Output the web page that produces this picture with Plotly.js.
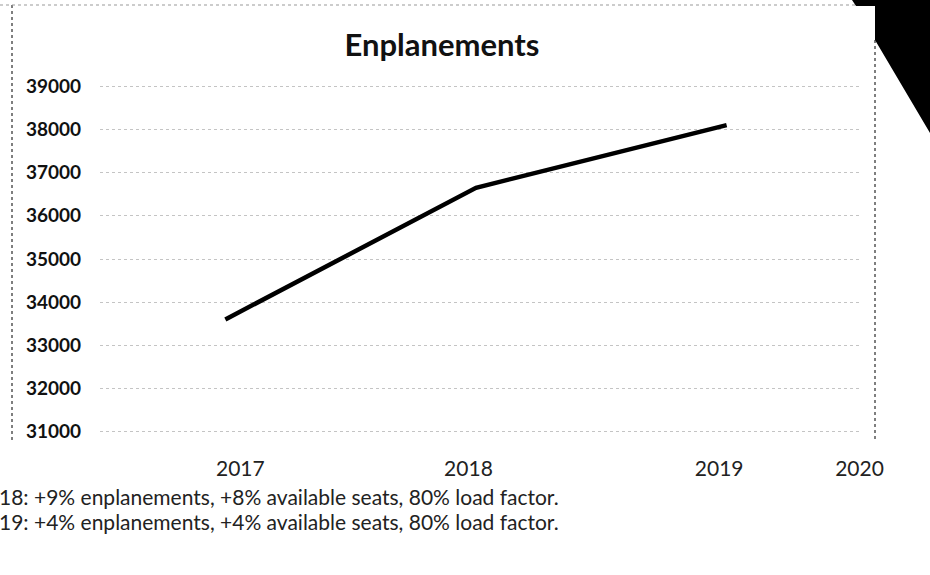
<!DOCTYPE html>
<html>
<head>
<meta charset="utf-8">
<script src="https://cdn.plot.ly/plotly-3.0.1.min.js"></script>
<style>html,body{margin:0;padding:0;background:#fff;}#chart{width:930px;height:575px;}</style>
</head>
<body>
<div id="chart"></div>
<script>
// Data
const years = [2017, 2018, 2019];
const enplanements = [33600, 36650, 38100];
const tickLabels = ['2017', '2018', '2019', '2020'];
const yTicks = [31000, 32000, 33000, 34000, 35000, 36000, 37000, 38000, 39000];
const notes = [
  '18: +9% enplanements, +8% available seats, 80% load factor.',
  '19: +4% enplanements, +4% available seats, 80% load factor.'
];
const chartTitle = 'Enplanements';

// label positions along the category axis (as in the scanned chart)
const tickPos = [2017.06, 2017.97, 2018.97, 2019.53];

// plot-area geometry helpers (pixels -> paper)
const L = 100, R = 862, T = 82, B = 436;
const px = p => (p - L) / (R - L);
const py = p => (B - p) / (B - T);

const trace = {
  x: years, y: enplanements, type: 'scatter', mode: 'lines',
  line: {color: '#000', width: 4.5},
  hoverinfo: 'skip'
};

const layout = {
  width: 930, height: 575,
  margin: {l: L, r: 930 - R, t: T, b: 575 - B},
  paper_bgcolor: '#fff', plot_bgcolor: '#fff',
  showlegend: false,
  font: {family: 'Lato, "Open Sans", sans-serif', color: '#1a1a1a'},
  title: {
    text: '<b>' + chartTitle + '</b>',
    font: {family: 'Lato, sans-serif', size: 31, color: '#111'},
    xref: 'container', yref: 'container', x: 442/930, y: 1 - 45/575,
    xanchor: 'center', yanchor: 'middle'
  },
  xaxis: {
    range: [2016.5, 2019.54],
    tickvals: tickPos, ticktext: tickLabels,
    showgrid: false, zeroline: false, showline: false, ticks: '',
    tickfont: {size: 21, color: '#222'},
    ticklabelstandoff: 18
  },
  yaxis: {
    range: [30900, 39100],
    tickvals: yTicks, ticktext: yTicks.map(String),
    showgrid: true, gridcolor: '#c4c4c4', gridwidth: 1, griddash: 'dot',
    zeroline: false, showline: false, ticks: '',
    tickfont: {size: 19, color: '#111', weight: 'bold'},
    ticklabelstandoff: 18
  },
  shapes: [
    // chart frame (scanned border)
    {type: 'line', xref: 'paper', yref: 'paper', x0: px(12), x1: px(12), y0: py(5), y1: py(440),
     line: {color: '#555', width: 1.5, dash: 'dot'}},
    {type: 'line', xref: 'paper', yref: 'paper', x0: px(875), x1: px(875), y0: py(40), y1: py(440),
     line: {color: '#555', width: 1.5, dash: 'dot'}},
    {type: 'line', xref: 'paper', yref: 'paper', x0: px(0), x1: px(860), y0: py(5), y1: py(5),
     line: {color: '#999', width: 1, dash: 'dot'}},
    // dark scan artifact at top right corner
    {type: 'path', xref: 'paper', yref: 'paper', fillcolor: '#000', line: {width: 0},
     path: 'M ' + px(852) + ' ' + py(0) + ' L ' + px(930) + ' ' + py(0) +
           ' L ' + px(930) + ' ' + py(133) + ' L ' + px(875) + ' ' + py(40) +
           ' L ' + px(875) + ' ' + py(6) + ' L ' + px(856) + ' ' + py(6) + ' Z'}
  ],
  annotations: notes.map((t, i) => ({
    text: t, xref: 'paper', yref: 'paper',
    x: px(-3), y: py(497 + i * 24),
    xanchor: 'left', yanchor: 'middle', showarrow: false,
    font: {family: 'Lato, sans-serif', size: 21, color: '#222'}
  }))
};

Plotly.newPlot('chart', [trace], layout, {displayModeBar: false, staticPlot: true});
</script>
</body>
</html>
